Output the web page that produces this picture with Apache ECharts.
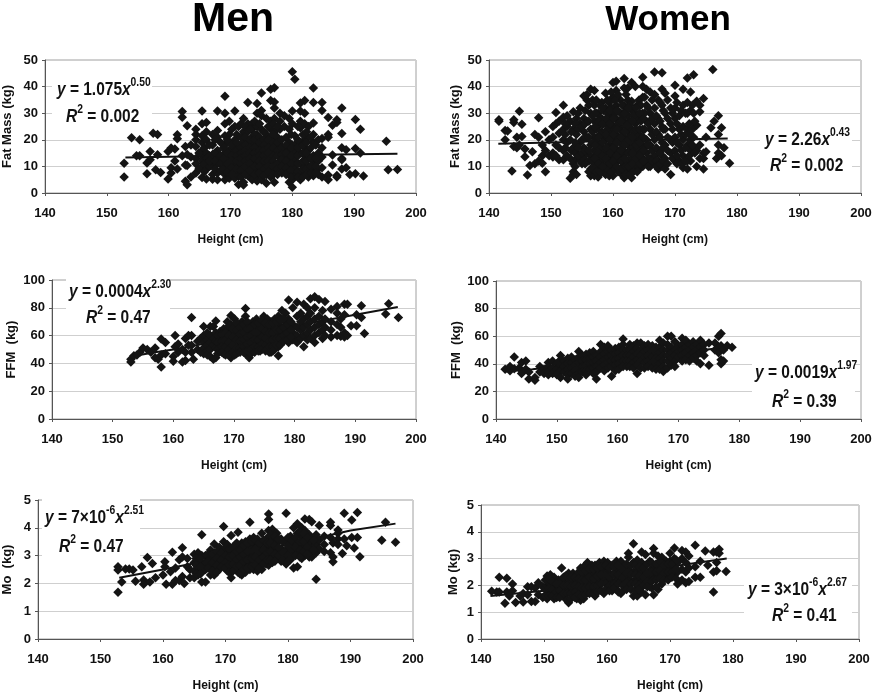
<!DOCTYPE html>
<html><head><meta charset="utf-8">
<style>html,body{margin:0;padding:0;background:#fff}#c{width:878px;height:699px}</style>
<script src="https://cdn.jsdelivr.net/npm/echarts@6/dist/echarts.min.js"></script>
</head><body><div id="c"></div>
<script>
// Each row: height, then the values read at that height
const menFatRows = [
[152.8,11.2,6],[154,20.8],[154.8,14],[155.3,20,14],[156.5,7.2,11.3],[157,15.6,12.5],[157.5,22.5],[157.9,8.7],[158.2,22,14.4],[158.7,7.7],
[159.9,15.6,5.3],[160.4,16.9,7.5,9.5],[161,16.5,12],[161.4,21.9,20.4,9],[162.2,30.6,28.5,14],[162.7,17.5,10.5,4.4],[163,25.3,14.5,10.3,3.1],[163.6,18,13.5,6],
[164.4,24,22,20,17.5,13,11,7.5],[165.4,30.8,26,21.5,19,16,14,12,10,5.8],[166.1,26.5,23,20,15,13,11,9,5.3],[167.1,22,18,14.5,12,10.5,7,5.2],[167.9,30.8,23.5,21,16,13,11,7.5,5],
[169.1,36.4,30,26,21.5,18,15,12,10,7,5],[169.8,27,22,19,16,13.5,9.5,6.5,5.5],[170.7,30.8,25,20,17,15,13,11,8,5.5],[171.3,25,18,16,14,10,6.5,3.2],[172.1,28,23,19,17,15,12,8,4,3],
[172.8,34,26,23,20,18,15.5,13,10,6.5],[173.5,26,24,21,19,16,14,11,8,5],[174.3,33.6,30,25,22,18,15,12,9,6.5,4.5],[175,37.6,31,29,24,20,17,14,11.5,8.5,5],[175.8,28,22,19,16,13,10,7,3.7],
[176.5,39,34.8,27,24,21,18,15,12.5,9,6],[177.1,39.6,34.2,32,28,23,20,17,14,11,8,4],[178,30,27,24,18,15,12,9],[178.7,29,25,16,14,11,8.5],[179.5,28,24,19,16,13,10,7.5,4],
[180,45.6,30.8,26,18,15,12,9,2.2,5],[180.4,42.8,21.5,18,16,13,10,7],[181.3,33.8,30.8,27,24.5,19,15,11,8,5],[182,34.8,30,26,20,17,14,11,7],[182.6,25,21,16,13,10,6],[183.4,39.5,34,26.3,22,19,14,11,8,6.5],
[184.2,20,15,12,9,7],[184.8,34,31,20.5,17,13.5,9.5,6],[185.8,28.4,22,21,6.8,5],[186.5,25.5,14.3,10.5],[187.2,27.5,26.5,6.6,6],[188,32,22.4,17,13,12.5,9],[188.7,16.3,9.5],[189.3,7],[190.2,27.6,16.7,7.2],[191,24,15],[191.5,6.4],[195.2,19.5],[195.5,8.7],[197,8.8],
[164.9,15,9],[165.8,17,11,8],[166.6,18,14,10,12],[167.5,20,15,12,9],[168.4,19,14,11,8.5],[168.9,17,13,9],[169.5,20,15,11,8],[170.2,24,18,14,12,9.5,7],[171,22,19,16,14,12,9],[171.7,26,21,17,15,13,11,8.5,6],[172.4,25,21,18,16,14,12,10,7],[173.1,24,20,17,15,13,11,8.5],[173.9,27,22,20,17,15,13,10,7],[174.7,26,21,19,16,14,12,10,7.5],[175.4,23,20,18,16,14,12,9,6.5],[176.1,25,20,17,15,12,10,8],[176.9,26,22,19,17,14,12,10,7],[177.6,25,21,19,16,14,11,9,7],[178.3,20,17,14.5,12.5,10,7.5],[179,21,18,15,12,9.5,7],[179.8,22,17,14,11,8.5,6],[180.9,25,20,17,14,11,8,6],[181.7,22,18,15,12,9,6],[182.3,23,19,15,12,9,7],[183,21,17,13,10,7.5],[183.8,18,13,10,7.5]
];
const womenFatRows = [
[141.6,27.5,27],[142.6,20,23.5],[143,23.3],[143.7,8.3],[144,27.5,26.5,17.5],[144.5,21,17],[144.9,30.7,18],[145.3,25.8,21.2],[145.8,13.6,16.5],[146.2,6.8],[146.6,10.3],[147,15.5],[147.4,22,11],[148,28.3,21,12],
[148.6,18,14,11.2],[149.1,23,16,8],[149.7,20,14],[150.3,25,21,15,13.5],[150.8,30.3,26,18,14],[151.3,27,22.5,17,12.5],[152,33,28.5,24,20,16,12.5],[152.6,29,25,19,14],[153.1,27,20,13,5.5],[153.6,30.5,24,17,11,8,7],[154.1,28,22,15,13,7],[154.7,32,26,19,12],
[155.3,36.5,28,23,17,13],[155.8,37,35,27,21,15],[156.4,39,30,24,18,14,9,6.5],[157,38.5,33,27,21,16,11,8,6.5],[157.6,30,25,19,13,9,6],[158.2,34,28,23,17,12,8],[158.8,37.5,32,26,20,15,10,7],[159.4,34,29,23,18,13,9,6.5],[160,41.5,36,31,25,20,14,10,6.5],[160.5,42,38.5,33,28,22,16,12],
[161.2,35,30,25,19,14,9,7.5],[161.8,43,39.5,33,27,21,15,11,5.7],[162.4,39.5,35,29,23,18,12,8],[163,41.5,34.5,31,24,19,13,9,5.7],[163.6,40,30,26,21,15,10],[164.2,35,28,22,17,12,9],[164.8,43.5,40,36,30,24,18,13,10],[165.4,39,33,27,20,15,11],[166,38,30,24,18,13,10],[166.7,45.5,37,32,26,20,14,11],
[167.3,35,28,22,16,12,9],[167.9,45.2,39,33,25,19,14,10],[168.4,37.5,30,24,18,13,9],[169.3,32,26,20,15,7],[170,40.5,36.5,32,28,21,16,12],[170.7,29,24,18,12],[171.3,39,33,25,20,14,9.5],[172,43.2,34,30,24,18,12,9],[172.5,38,31,20,16,12],[173,44.5,30,21,17],[173.5,34.5,25.5,16,10],[174,33,30.5,18,13],[174.6,35.5,15,13,9],[175,21,15.5],[175.8,24.5],[176.1,46.4],[176.3,27],[176.7,13],[177,29,22,18,15],[177.5,24.5,14],[177.9,17],[178.8,11.2],
[152.3,26,22,17],[153.3,23,16],[153.9,26,19,15,10],[154.4,30,24,17,14],[155,25,20,15,11],[155.5,31,26,21,16,11],[156.1,33,27,21,16,12,8],[156.7,35,29,23,19,12,9],[157.3,35,30,24,19,14,10,8],[157.9,33,28,22,17,11,8],[158.5,31,26,21,15,10],[159.1,35,30,24,21,17,12,9],[159.7,38,32,27,22,16,11,8],[160.3,35,30,24,18,13,9],[160.8,37,31,26,21,16,12,8],[161.5,33,28,23,17,12,9],[162.1,37,31,25,20,15,10,7],[162.7,33,27,21,16,10,7],[163.3,29,23,17,12,8],[163.9,33,27,21,17,12,8],[164.5,33,27,20,15,11],[165.1,36,30,24,17,12],[165.7,32,26,18,13,10],[166.3,35,28,22,16,12],[167,29,23,17,12,10],[167.6,34,27,21,15,11],[168.1,31,24,17,12],[168.8,35,28,21,16,11],[169.6,30,24,19,13],[170.3,34,26,19,14,11],[171,31,22,16,11],[171.7,30,22,17,12],[172.3,26,22,14],[172.8,33,24,18],[173.2,27,15],
[157.1,30,25,18,13],[157.7,27,21,15,11],[158.3,32,26,19,14,10],[158.9,28,22,17,13],[159.5,31,26,20,15,11],[160.1,28,22,17,12],[160.6,31,24,19,14,10],[161.3,27,21,16,12],[161.9,30,23,18,13],[162.5,32,26,20,15,10],[163.1,27,21,15,11],[163.7,32,24,18,13],[164.3,30,24,19,14,11],[164.9,28,21,16,12]
];
const menFfmRows = [
[153,43,41],[153.5,45.5],[154,46],[154.5,48],[155,51],[155.7,50],[156.3,48],[157,51,44],[157.5,43],[158,57.5,37.5,46],[158.7,55,47],[160,45,41.5],[160.3,60,52],[160.8,54,48],[161.5,50,41],[162,58,42,48],[162.5,60,53],[163,73,60,53,48],[163.3,43],[164,56,50],[164.5,58,48],
[165,66.5,60,55,51,47],[165.6,62,57,53,49,46],[166.1,66.5,60,55,50,45],[166.6,66.5,58,53,43],[167,70.5,62,56,51,44],[167.7,63,58,53,49],[168.3,65,60,55,50,47],[168.9,70,64,58,53,48],[169.5,74.5,68,62,56,51,46,44],[170.1,72,66,60,54,49,46],[170.7,68,63,58,53,48],[171.3,70,64,59,54,50],[171.9,79.5,74,67,61,56,51,47],[172.5,68,62,57,52,44],
[173.1,70,65,59,54,50],[173.7,72,66,60,55,51],[174.3,70,64,58,53,49],[174.9,74,68,62,57,52],[175.5,72,66,60,55,50],[176.1,70,64,58,53,48],[176.7,72,66,60,55,50],[177.3,74,68,62,57,52,45.5],[177.9,78,72,66,60,55],[178.5,76,70,64,58],[179,85.7,72,66,60,55],[179.7,80,68,62,57],[180.4,84,74,66,60,55],
[181,76,70,64,58],[181.5,82.5,72,66,60,52],[182.1,80,74,68,62,57],[182.6,86.5,76,70,64,58],[183.3,88,80,72,66,60,55],[184,86,74,68,62],[184.6,78,70,64,58],[185,84.5,72,66,60],[186,79,70,64,59],[187,81,76,68,60],[187.6,72,66,59.5],[188.2,82.5,75,62,59],[188.7,82.5,60],[189.3,67],[190.2,75,67],[191,81.5,73],[191.5,61.5],[195,75.5],[195.5,83],[197.1,73],
[167.3,60,55,50,47],[168,61,56,52,48],[168.6,62,57,52,46],[169.2,67,60,55,50,46],[169.8,65,59,53,48],[170.4,69,64,57,51,47],[171,66,61,56,51,48],[171.6,68,62,57,52,48],[172.2,70,65,59,54,49],[172.8,66,60,55,50,47],[173.4,68,62,57,52,48],[174,69,63,57,52,49],[174.6,71,65,59,54,50],[175.2,69,63,58,53,49],[175.8,68,62,56,52,48],[176.4,69,62,57,52,49],[177,70,64,58,53],[177.6,71,64,58,53],[178.2,72,66,60,56],[178.8,68,62,57],[179.4,70,64,59]
];
const womenFfmRows = [
[141.5,36],[142.3,38,35],[143,45,36.5],[143.8,37],[144.2,41,33],[144.9,42,36],[145.4,34,29],[146.4,28,30],[147.2,38,34],[147.9,36,33],[148.6,41,38,34,32],[149.3,42,37,33],[150,40,36,32],[150.6,46,43,39,35,30],[151.2,42,38,34],[151.8,44,40,36,32,29],[152.4,45,41,37,33],[153,43,39,35,31],[153.6,49,45,41,37,33,30],[154.2,46,42,38,34],[154.8,47,43,39,35,32],[155.4,48,44,40,36],[156,49,45,41,37,33],[156.5,46,42,38,34,29],[157.2,54,49,45,41,37],[157.8,52,47,43,39,35],
[158.4,53,49,45,41,37],[159,50,46,42,38,31],[159.6,51,47,43,39,35],[160.2,52,48,44,40,36],[160.9,58,54,50,46,42,38],[161.5,50,46,42,38],[162,54,50,46,42,38],[162.6,53,49,45,41,37],[163.2,55,51,47,43,39,33],[163.8,55,50,46,42,37],[164.4,53,49,45,41,37],[165,54,50,46,42,38],[165.7,53,49,45,41,37],[166.3,52,48,44,40,36],[166.9,57,52,48,44,40,36],[167.5,55,50,46,42,38,34.5],[168.2,60,54,50,46,42,37],[168.8,60,52,48,44,39],[169.4,56,50,46,42,38],
[170,53,49,45],[170.6,58.5,54,50,46,42],[171.2,57,52,48,43],[171.8,54,50,46,42],[172.4,56,52,48,44],[173,54,50,46,42],[173.6,57,52,48,40],[174.2,54,50,46],[175,55,39],[176,55,50],[176.6,60,52,48],[177,62,53,43,40],[177.4,50,42],[178,53],[178.8,52]
];
const menMoRows = [
[152.8,2.6,2.48,1.68],[153.4,2.05],[154,2.52],[154.6,2.52],[155.2,2.48],[155.6,2.08],[156.6,2.6],[156.9,2.12,1.97],[157.5,2.93],[157.9,2.05],[158.3,2.72],[158.8,2.2],[160,2.3],[160.3,2.78,2.6],[160.5,1.97],[161.2,2.42],[161.5,3.12,1.97],[162,2.55,2.1],[162.6,2.85,2.1],[163.1,3.28,2.95,2.25],[163.4,2],[163.9,2.9,2.6],[164.3,2.5,2.2],
[165,3.05,2.75,2.45,2.2],[165.6,3.1,2.85,2.55,2.3],[166.2,3.75,3,2.7,2.4,2.05],[166.8,3,2.75,2.5,2.05],[167.6,3.2,2.9,2.6,2.3],[168.2,3.42,3.1,2.8,2.55,2.3],[169,3.3,3,2.75,2.5],[169.7,4.05,3.5,3.2,2.9,2.6],[170.3,3.4,3.05,2.75,2.45],[170.9,3.72,3.2,2.9,2.6,2.2],[171.6,3.4,3.1,2.8,2.5],[172,3.84,3.3,3,2.7,2.4],[172.6,3.45,3.1,2.85,2.55,2.3],[173.2,3.5,3.2,2.95,2.65,2.4],[173.9,4.2,3.6,3.3,3,2.7,2.5],[174.5,3.65,3.35,3.05,2.75,2.5],[175.1,3.6,3.3,3,2.7,2.45],[175.8,3.8,3.45,3.15,2.85,2.5],[176.5,3.6,3.3,3,2.7],[176.9,4.5,4.3,3.9,3.2,2.65],[177.5,3.95,3.6,3.3,3,2.75],[178.2,3.8,3.45,3.15,2.9],[178.9,3.6,3.25,2.8],[179.7,4.52,3.55,3.2,2.9,2.7],
[180.4,3.7,3.4,3.1,2.85],[180.9,4,3.6,3.25,2.55],[181.5,4.15,3.8,3.45,3.15,2.6],[182.2,4,3.7,3.4,3.05,2.9],[182.7,4.32,3.9,3.6,3.3,3],[183.4,4.3,3.75,3.45,3.15,2.95],[183.8,4.22,3.6,3.25,2.95],[184.5,3.75,3.4,3.1,2.15],[185,4.08,3.55,3.25],[185.8,3.7,3.4,3.15],[186.8,4.2,4.08,3.65,3.1],[187.2,3.45,2.95,2.78],[188,3.92,3.8,3.6,3.4],[188.7,3.08],[189,4.52,3.6],[189.4,3.35],[190.2,4.28,3.65],[190.6,3.27],[191.1,4.55,3.65],[191.5,2.96],[195,3.55],[195.6,4.2],[197.2,3.48],
[165.3,2.9,2.65,2.35],[166,2.9,2.6,2.35],[167.2,3.05,2.8,2.55],[167.9,3.05,2.75,2.45],[168.6,3.15,2.9,2.65,2.4],[169.3,3.1,2.85,2.6],[170,3.3,3,2.75,2.55],[170.6,3.25,2.95,2.65,2.4],[171.2,3.3,3,2.7,2.45],[171.8,3.45,3.15,2.85,2.6],[172.3,3.2,2.95,2.65,2.35],[172.9,3.35,3.05,2.8,2.5],[173.5,3.45,3.15,2.85,2.55],[174.2,3.5,3.2,2.9,2.6],[174.8,3.55,3.25,2.95,2.65],[175.4,3.45,3.15,2.85,2.55],[176.1,3.55,3.2,2.95,2.7],[176.7,3.45,3.1,2.85],[177.2,3.75,3.45,3.15,2.85],[177.9,3.7,3.35,3.05,2.8],[178.5,3.6,3.3,3],[179.2,3.5,3.1,2.85],[180,3.65,3.35,3,2.8],[180.6,3.55,3.2,2.95],[181.2,3.65,3.3,3],[181.9,3.85,3.5,3.2,2.95],[182.5,3.8,3.5,3.15],[183.1,3.65,3.3,3.05],[184.1,3.55,3.2]
];
const womenMoRows = [
[141.7,1.78],[142.5,1.75],[142.9,2.3,1.75],[143.8,1.33],[144.1,2.27,1.75],[144.5,1.6],[145,2.05,1.8],[145.5,1.36],[146.2,1.6],[146.7,1.38,1.7],[147.4,1.95,1.65],[148,1.95,1.4],[148.6,1.9,1.4],[149.1,2.1,1.65],[149.8,1.95,1.55],[150.5,2.35,2,1.7,1.5],[151,2.4,2.05,1.7],[151.6,2.3,2,1.7,1.5],[152.3,2.2,1.9,1.6],[152.8,2.65,2.2,1.9,1.65],[153.4,2.35,2.05,1.75,1.5],[153.9,2.45,2.1,1.8,1.35],[154.6,2.45,2.15,1.85,1.6],[155.2,2.4,2.1,1.8,1.5],[155.8,2.65,2.3,2,1.7,1.45],[156.3,2.7,2.35,2.05,1.75,1.5],[156.9,2.85,2.45,2.15,1.8],[157.6,2.75,2.4,2.1,1.8],[158.1,2.75,2.45,2.1,1.6],[158.8,2.85,2.5,2.15,1.85],[159.5,2.9,2.55,2.2,1.7],[160.1,2.85,2.5,2.15,1.9],[160.8,2.75,2.4,2.1,1.8],[161.5,2.9,2.55,2.2,1.85],[162.2,2.9,2.5,2.15,1.7],[162.8,2.7,2.35,2.05],[163.4,3.2,3.05,2.6,2.25,1.95],[164.2,3.55,2.85,2.5,2.15,1.6],[164.8,2.95,2.55,2.2,1.9,1.6],[165.5,3.25,2.85,2.5,2.15,1.75],[166.1,3.15,2.75,2.4,2.05,1.65],[166.8,2.9,2.55,2.25,1.95],[167.4,3.38,3.2,2.7,2.35,1.65],[168.1,3.1,2.7,2.35,1.85],[168.7,3.05,2.7,2.4,2.05],[169.4,2.9,2.6,2.3],[170,3.2,2.9,2.55,2.3],[170.7,3.4,3,2.7,2.4],[171.2,2.85,2.5,2.05],[171.9,3.3,3,2.6,2.2],[172.5,3.25,2.85,2.5,2.1],[173,3.1,2.65,2.15],[174,3.5,2.7,2.3],[174.8,2.9,2.3],[175.6,3.28],[176,2.75],[176.9,3.25,2.5,1.75],[177.4,3.25,2.85,2.55],[177.8,3.35,3.2],[178.9,2.52],
[150.2,2.2,1.85,1.6],[150.8,2.25,1.9,1.6],[151.3,2.15,1.85,1.6],[152,2.05,1.75,1.55],[152.5,2.05,1.8,1.55],[153.1,2.3,2,1.7],[153.7,2.3,2,1.7,1.45],[154.3,2.3,1.95,1.7,1.5],[154.9,2.3,2,1.75,1.55],[155.5,2.5,2.25,1.95,1.65],[156,2.5,2.2,1.9,1.6],[156.6,2.55,2.2,1.9,1.65],[157.2,2.6,2.3,1.95,1.7],[157.9,2.6,2.25,1.95,1.7],[158.5,2.65,2.35,2,1.75],[159.1,2.7,2.4,2.05,1.8],[159.8,2.75,2.35,2.05,1.85],[160.4,2.65,2.3,2,1.8],[161.1,2.7,2.4,2.05,1.9],[161.8,2.75,2.4,2.05,1.75],[162.5,2.65,2.3,2,1.8],[163.1,2.8,2.45,2.1,1.85],[163.8,2.75,2.4,2.05,1.85],[164.5,2.75,2.4,2.05,1.8],[165.1,2.7,2.35,2,1.85],[165.8,2.65,2.3,2],[166.4,2.8,2.45,2.15,1.95],[167.1,2.85,2.5,2.15,1.9],[167.8,2.8,2.5,2.2,1.95],[168.4,2.9,2.55,2.25],[169,2.75,2.45,2.2],[169.7,2.8,2.5,2.2],[170.3,2.8,2.5,2.3],[171,2.95,2.6,2.25]
];
const trendMenFat = [[153,13.3],[165,13.8],[180,14.3],[197,14.8]];
const trendWomenFat = [[141.5,18.5],[150,19],[165,19.9],[178.5,20.5]];
const trendMenFfm = [[153,45],[157,48],[160,50],[170,58],[180,67],[190,75],[197,80.5]];
const trendWomenFfm = [[141.5,34.5],[146,36],[160,43],[170,48],[178,52]];
const trendMenMo = [[153,2.2],[160,2.5],[170,2.95],[180,3.4],[190,3.9],[197.2,4.15]];
const trendWomenMo = [[141.5,1.6],[150,1.8],[160,2.3],[170,2.7],[179,3.0]];
const xTicks = [140,150,160,170,180,190,200];

const flat = rows => rows.flatMap(r => r.slice(1).map(v => [r[0], v]));
const FONT = '"Liberation Sans", Arial, sans-serif';
const panels = [
 {rows:menFatRows,trend:trendMenFat,name:'Fat Mass (kg)',max:50,step:10,l:43,t:60,r:416,b:193,gap:31,
  eq:'{i|y} = 1.075{i|x}{s|0.50}',r2:'{i|R}{s|2} = 0.002',ex:57,ey:90,rx:66,ry:117,box:[52,72,100,60]},
 {rows:womenFatRows,trend:trendWomenFat,name:'Fat Mass (kg)',max:50,step:10,l:489,t:60,r:861,b:193,gap:27,
  eq:'{i|y} = 2.26{i|x}{s|0.43}',r2:'{i|R}{s|2} = 0.002',ex:765,ey:140,rx:770,ry:166,box:[760,122,92,58]},
 {rows:menFfmRows,trend:trendMenFfm,name:'FFM  (kg)',max:100,step:20,l:52,t:280,r:416,b:419,gap:34,
  eq:'{i|y} = 0.0004{i|x}{s|2.30}',r2:'{i|R}{s|2} = 0.47',ex:69,ey:292,rx:86,ry:318,box:[66,278,104,54]},
 {rows:womenFfmRows,trend:trendWomenFfm,name:'FFM  (kg)',max:100,step:20,l:496,t:281,r:861,b:419,gap:31,
  eq:'{i|y} = 0.0019{i|x}{s|1.97}',r2:'{i|R}{s|2} = 0.39',ex:755,ey:373,rx:772,ry:402,box:[752,360,103,56]},
 {rows:menMoRows,trend:trendMenMo,name:'Mo  (kg)',max:5,step:1,l:35,t:500,r:413,b:639,gap:24,
  eq:'{i|y} = 7\u00d710{s|-6}{i|x}{s|2.51}',r2:'{i|R}{s|2} = 0.47',ex:45,ey:518,rx:59,ry:547,box:[42,498,98,60]},
 {rows:womenMoRows,trend:trendWomenMo,name:'Mo (kg)',max:5,step:1,l:481,t:505,r:859,b:639,gap:21,
  eq:'{i|y} = 3\u00d710{s|-6}{i|x}{s|2.67}',r2:'{i|R}{s|2} = 0.41',ex:748,ey:590,rx:772,ry:616,box:[744,576,108,54]}
];
const rich = {
 i:{font:`italic bold 18px ${FONT}`,fill:'#111',lineHeight:26},
 s:{font:`bold 12px ${FONT}`,fill:'#111',verticalAlign:'top',lineHeight:14}
};
const label = (text,x,y) => ({type:'text',x,y,z:20,scaleX:0.86,style:{text,rich,font:`bold 18px ${FONT}`,fill:'#111',verticalAlign:'middle',lineHeight:26}});
const grid=[],xAxis=[],yAxis=[],series=[],graphic=[];
graphic.push({type:'text',x:233,y:20,style:{text:'Men',font:`bold 41px ${FONT}`,fill:'#000',align:'center',verticalAlign:'middle'}});
graphic.push({type:'text',x:668,y:20,style:{text:'Women',font:`bold 35px ${FONT}`,fill:'#000',align:'center',verticalAlign:'middle'}});
panels.forEach((p,i)=>{
 grid.push({left:p.l,top:p.t,width:p.r-p.l,height:p.b-p.t,show:true,borderColor:'#a0a0a0',borderWidth:1,backgroundColor:'#fff'});
 const tl={color:'#111',fontFamily:FONT,fontWeight:'bold',fontSize:13};
 xAxis.push({gridIndex:i,type:'value',min:xTicks[0],max:xTicks[xTicks.length-1],interval:10,name:'Height (cm)',nameLocation:'middle',nameGap:41,
  nameTextStyle:{color:'#111',fontFamily:FONT,fontWeight:'bold',fontSize:12},
  axisLine:{onZero:false,lineStyle:{color:'#555'}},axisTick:{length:3,lineStyle:{color:'#555'}},axisLabel:{...tl,margin:14},splitLine:{show:false}});
 yAxis.push({gridIndex:i,type:'value',min:0,max:p.max,interval:p.step,name:p.name,nameLocation:'middle',nameGap:p.gap,nameRotate:90,
  nameTextStyle:{color:'#111',fontFamily:FONT,fontWeight:'bold',fontSize:13},
  axisLine:{show:true,lineStyle:{color:'#555'}},axisTick:{show:true,length:3,lineStyle:{color:'#555'}},axisLabel:{...tl,margin:7},splitLine:{show:true,lineStyle:{color:'#cfcfcf'}}});
 series.push({type:'line',xAxisIndex:i,yAxisIndex:i,symbol:'none',smooth:false,lineStyle:{color:'#111',width:2},data:p.trend,silent:true,z:2});
 series.push({type:'scatter',xAxisIndex:i,yAxisIndex:i,symbol:'diamond',symbolSize:9.5,itemStyle:{color:'#141414',opacity:1},data:flat(p.rows),silent:true,z:3});
 graphic.push({type:'rect',z:1,shape:{x:p.box[0],y:p.box[1],width:p.box[2],height:p.box[3]},style:{fill:'#fff'}});
 graphic.push(label(p.eq,p.ex,p.ey));
 graphic.push(label(p.r2,p.rx,p.ry));
});
const chart=echarts.init(document.getElementById('c'),null,{renderer:'canvas'});
chart.setOption({animation:false,backgroundColor:'#fff',grid,xAxis,yAxis,series,graphic});
</script></body></html>
